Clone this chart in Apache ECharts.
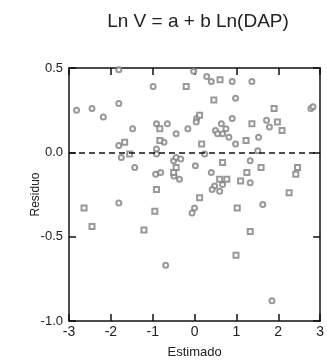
<!DOCTYPE html>
<html><head><meta charset="utf-8">
<script src="https://cdn.jsdelivr.net/npm/echarts@6/dist/echarts.min.js"></script>
<style>html,body{margin:0;padding:0;background:#fff}#c{width:327px;height:364px}</style>
</head><body><div id="c"></div>
<script>
var titleText = "Ln V = a + b Ln(DAP)";
var xName = "Estimado", yName = "Residuo";
var xTicks = [-3,-2,-1,0,1,2,3];
var yTicks = [-1.0,-0.5,0.0,0.5];
var circleX = [-1.81,-0.99,-2.82,-2.45,-2.18,-1.81,-1.48,-0.91,-0.65,-0.44,-1.81,-0.73,-0.91,-1.75,-0.91,-1.43,-0.93,-0.81,-0.5,-0.44,-0.02,0.29,0.40,0.90,1.37,0.98,2.78,2.83,0.05,0.04,0.90,0.64,1.72,1.79,-0.16,0.50,0.55,0.67,0.75,0.82,0.98,1.53,0.24,1.51,-0.33,0.02,1.33,-0.36,0.40,1.33,0.48,0.67,0.60,0.42,0,-0.06,1.63,1.85,-1.81,-0.69,-0.49];
var circleY = [0.49,0.39,0.25,0.26,0.21,0.29,0.14,0.17,0.17,0.11,0.04,0.06,0.02,-0.03,-0.01,-0.09,-0.13,-0.12,-0.05,-0.03,0.48,0.45,0.42,0.42,0.42,0.32,0.26,0.27,0.20,0.18,0.20,0.17,0.19,0.15,0.14,0.13,0.11,0.11,0.14,0.09,0.05,0.09,-0.01,0.01,-0.04,-0.08,-0.05,-0.16,-0.12,-0.18,-0.20,-0.19,-0.23,-0.22,-0.33,-0.36,-0.31,-0.88,-0.30,-0.67,-0.14];
var squareX = [-0.83,-1.67,-0.83,-1.55,-0.5,-0.44,0.61,-0.20,0.46,1.90,0.12,1.37,1.98,2.09,1.23,0.17,0.67,1.59,2.46,2.42,0.60,1.25,1.10,0.77,0.12,1.02,2.26,1.33,0.99,-2.64,-2.45,-0.91,-0.95,-1.21];
var squareY = [0.14,0.06,0.07,-0.01,-0.12,-0.09,0.43,0.39,0.31,0.26,0.22,0.17,0.18,0.13,0.07,0.05,-0.06,-0.09,-0.09,-0.13,-0.16,-0.12,-0.17,-0.16,-0.27,-0.33,-0.24,-0.47,-0.61,-0.33,-0.44,-0.22,-0.35,-0.46];

function zip(a,b){return a.map(function(v,i){return [v,b[i]];});}
var font = "Liberation Sans, Arial, sans-serif";
var ax = {color:'#111', width:1.5};
var chart = echarts.init(document.getElementById('c'), null, {renderer:'canvas'});
chart.setOption({
  animation:false,
  backgroundColor:'#fff',
  title:{text:titleText, left:193, top:7, textAlign:'center',
    textStyle:{fontFamily:font, fontSize:19, fontWeight:'normal', color:'#222'}},
  grid:{left:69, top:68, right:6, bottom:43, containLabel:false},
  xAxis:[{type:'value', min:xTicks[0], max:xTicks[xTicks.length-1], interval:1,
    name:xName, nameLocation:'middle', nameGap:25, nameMoveOverlap:false,
    nameTextStyle:{fontFamily:font, fontSize:13, color:'#222'},
    axisLine:{lineStyle:ax, onZero:false}, axisTick:{inside:true, length:7, lineStyle:ax},
    axisLabel:{fontFamily:font, fontSize:14, color:'#222', margin:4},
    splitLine:{show:false}},
   {type:'value', position:'top', min:xTicks[0], max:xTicks[xTicks.length-1], interval:1,
    axisLine:{lineStyle:ax, onZero:false}, axisTick:{inside:true, length:7, lineStyle:ax},
    axisLabel:{show:false}, splitLine:{show:false}}],
  yAxis:[{type:'value', min:yTicks[0], max:yTicks[yTicks.length-1], interval:0.5,
    name:yName, nameLocation:'middle', nameGap:27, nameRotate:90, nameMoveOverlap:false,
    nameTextStyle:{fontFamily:font, fontSize:12, color:'#222'},
    axisLine:{lineStyle:ax, onZero:false}, axisTick:{inside:true, length:7, lineStyle:ax},
    axisLabel:{fontFamily:font, fontSize:13, color:'#222', margin:6,
      formatter:function(v){return v.toFixed(1);}},
    splitLine:{show:false}},
   {type:'value', position:'right', min:yTicks[0], max:yTicks[yTicks.length-1], interval:0.5,
    axisLine:{lineStyle:ax, onZero:false}, axisTick:{inside:true, length:7, lineStyle:ax},
    axisLabel:{show:false}, splitLine:{show:false}}],
  series:[
    {type:'scatter', data:zip(circleX,circleY), symbol:'emptyCircle', symbolSize:5,
     itemStyle:{color:'#808080', borderColor:'#808080', borderWidth:1},
     markLine:{silent:true, symbol:'none', label:{show:false},
       lineStyle:{color:'#111', type:[6,4], width:1.5},
       data:[{yAxis:0}]}},
    {type:'scatter', data:zip(squareX,squareY), symbol:'emptyRect', symbolSize:5,
     itemStyle:{color:'#808080', borderColor:'#808080', borderWidth:1}}
  ]
});
</script></body></html>
